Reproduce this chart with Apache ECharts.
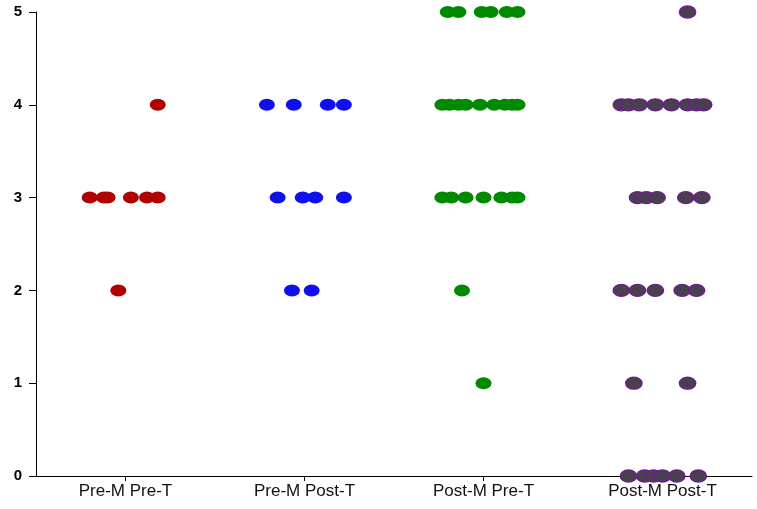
<!DOCTYPE html>
<html><head><meta charset="utf-8">
<script src="https://cdn.jsdelivr.net/npm/echarts@6/dist/echarts.min.js"></script>
<style>html,body{margin:0;padding:0;background:#fff}#c{width:757px;height:509px}</style>
</head><body><div id="c"></div>
<script>
const categories = ['Pre-M Pre-T','Pre-M Post-T','Post-M Pre-T','Post-M Post-T'];
const yTicks = [0,1,2,3,4,5];
// [x position along category axis (jittered), score]
const preMpreT = [[0.30,3],[0.38,3],[0.40,3],[0.53,3],[0.62,3],[0.68,3],[0.46,2],[0.68,4]];
const preMpostT = [[1.29,4],[1.44,4],[1.63,4],[1.72,4],[1.35,3],[1.49,3],[1.56,3],[1.72,3],[1.43,2],[1.54,2]];
const postMpreT = [[2.30,5],[2.36,5],[2.49,5],[2.54,5],[2.63,5],[2.69,5],
  [2.27,4],[2.31,4],[2.36,4],[2.40,4],[2.48,4],[2.56,4],[2.62,4],[2.66,4],[2.69,4],
  [2.27,3],[2.32,3],[2.40,3],[2.50,3],[2.60,3],[2.66,3],[2.69,3],[2.38,2],[2.50,1]];
const postMpostT = [[3.64,5],
  [3.27,4],[3.31,4],[3.37,4],[3.46,4],[3.55,4],[3.64,4],[3.69,4],[3.73,4],
  [3.36,3],[3.41,3],[3.47,3],[3.63,3],[3.72,3],
  [3.27,2],[3.36,2],[3.46,2],[3.61,2],[3.69,2],
  [3.34,1],[3.64,1],
  [3.31,0],[3.40,0],[3.45,0],[3.50,0],[3.58,0],[3.70,0]];
const catPos = categories.map((c,i)=>i+0.5);
function s(data,color,border){return {type:'scatter',data,symbol:'circle',symbolSize:[16,12],clip:false,
  itemStyle:{color,opacity:1,borderColor:border||color,borderWidth:border?1.5:0}};}
const chart = echarts.init(document.getElementById('c'));
chart.setOption({
  animation:false,
  grid:{left:36,right:5,top:12,bottom:33},
  xAxis:{type:'value',min:0,max:4,splitLine:{show:false},
    axisLine:{lineStyle:{color:'#000'}},
    axisTick:{customValues:catPos,length:5,lineStyle:{color:'#000'}},
    axisLabel:{customValues:catPos,formatter:v=>categories[Math.round(v-0.5)],color:'#111',fontSize:17,fontFamily:'Liberation Sans',margin:7}},
  yAxis:{type:'value',min:0,max:5,interval:1,splitLine:{show:false},
    axisLine:{show:true,lineStyle:{color:'#000'}},
    axisTick:{show:true,length:7,lineStyle:{color:'#000'}},
    axisLabel:{color:'#000',fontSize:15,fontWeight:'bold',fontFamily:'Liberation Sans',margin:14}},
  series:[s(preMpreT,'#b00000'),s(preMpostT,'#1010ee'),s(postMpreT,'#008a00'),s(postMpostT,'#48404c','#6a1f8e')]
});
</script></body></html>
